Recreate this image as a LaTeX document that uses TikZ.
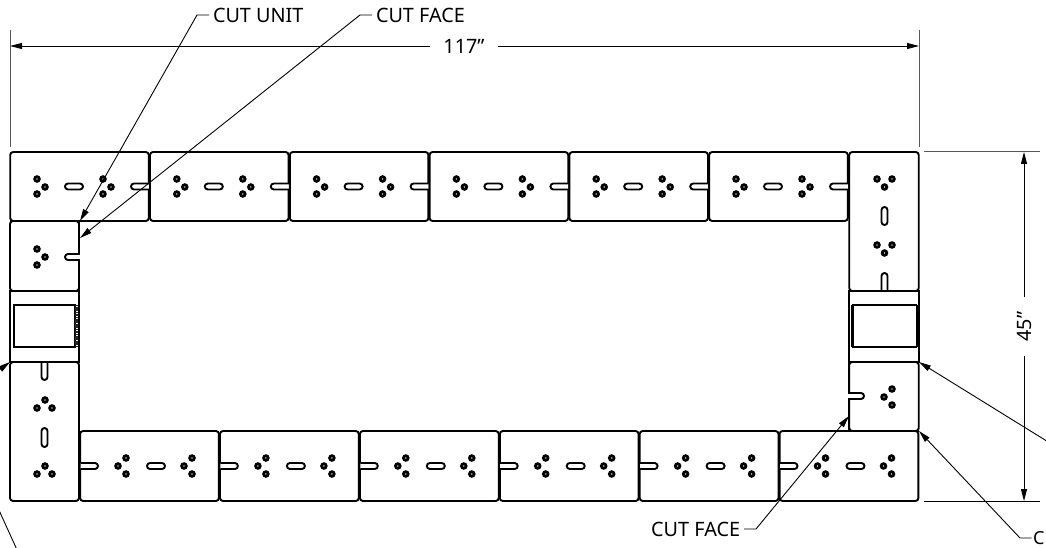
\documentclass[tikz,border=0pt]{standalone}
\usepackage{fontspec}
\setmainfont{Noto Sans}
\usetikzlibrary{arrows.meta}
\tikzset{
  unit/.style={draw=black,fill=white,line width=1.9pt,rounded corners=3pt,inner sep=0pt,outer sep=0pt},
  hole/.style={draw=black,fill=white,line width=2.8pt},
  slotcap/.style={draw=black,fill=white,line width=1.9pt,rounded corners=3pt},
  boxline/.style={draw=black,line width=1.9pt},
  thickline/.style={draw=black,line width=2.8pt},
  dimline/.style={draw=black,line width=0.9pt,-{Triangle[length=12pt,width=6pt]}},
  extline/.style={draw=black!65,line width=1pt},
  extdark/.style={draw=black,line width=0.9pt},
  leader/.style={draw=black,line width=0.9pt,-{Triangle[length=12pt,width=6pt]}},
  label/.style={font=\fontsize{19.8pt}{21pt}\selectfont,inner xsep=4pt,inner ysep=0pt,outer sep=0pt},
}
\newcommand{\hslotc}[3]{\draw[slotcap] (#1,#3-3) -- (#2,#3-3) -- (#2,#3+3) -- (#1,#3+3) -- cycle;}
\newcommand{\vslotc}[3]{\draw[slotcap] (#3-3,#1) -- (#3+3,#1) -- (#3+3,#2) -- (#3-3,#2) -- cycle;}
\newcommand{\holes}[6]{\path[hole] (#1,#2) circle (2.3) (#3,#4) circle (2.3) (#5,#6) circle (2.3);}
\begin{document}
\begin{tikzpicture}[x=1pt,y=-1pt]
\clip[use as bounding box] (0,0) rectangle (1046,548);
% top row
\foreach \i in {1,...,6}{
  \pgfmathsetmacro\xo{10+139.8*(\i-1)}
  \node[unit,minimum width=138.6pt,minimum height=69pt] (t\i) at (\xo+69.5,186.5) {};
  \begin{scope}[shift={(\xo,0)}]
    \holes{27}{179}{35}{187}{27}{194}
    \holes{93}{179}{101}{187}{93}{194}
    \hslotc{55}{73}{186.5}
    \draw[slotcap] (139,183.5) -- (121,183.5) -- (121,189.5) -- (139,189.5);
  \end{scope}
}
% upper right unit
\node[unit,minimum width=69.5pt,minimum height=139pt] (ru) at (884,221.5) {};
\holes{877}{179}{892}{179}{884.5}{187}
\vslotc{207}{225}{884.5}
\holes{877}{245}{892}{245}{884.5}{253}
\draw[slotcap] (881.5,291) -- (881.5,273) -- (887.5,273) -- (887.5,291);
% upper left cut unit
\node[unit,minimum width=69pt,minimum height=70pt] (lc) at (44.5,256) {};
\draw[boxline] (79,222) -- (79,291);
\holes{37}{249}{45}{257}{37}{265}
\draw[slotcap] (79,254) -- (65,254) -- (65,260) -- (79,260);
\draw[white,line width=2.2pt] (79,255) -- (79,259);
% left box
\node[boxline,minimum width=69pt,minimum height=71pt,inner sep=0pt,outer sep=0pt] (lb) at (44.5,326.5) {};
\node[draw=black,line width=1.2pt,minimum width=61pt,minimum height=42pt,inner sep=0pt,outer sep=0pt] (lbi) at (44.5,326) {};
\fill[black] (12.5,305) rectangle (14.8,347);
\draw[black!85,line width=3.4pt,dash pattern=on 1.2pt off 0.5pt] (76.5,305) -- (76.5,347);
% right box
\node[boxline,minimum width=69.5pt,minimum height=71pt,inner sep=0pt,outer sep=0pt] (rb) at (884,326.5) {};
\node[draw=black,line width=1.2pt,minimum width=64pt,minimum height=42pt,inner sep=0pt,outer sep=0pt] (rbi) at (884.5,326) {};
\fill[black] (850.5,305) rectangle (853.5,347);
\fill[black] (915.5,305) rectangle (918.2,347);
% lower left unit
\node[unit,minimum width=69pt,minimum height=139pt] (ll) at (44.5,431.5) {};
\draw[slotcap] (41.5,362) -- (41.5,380) -- (47.5,380) -- (47.5,362);
\holes{37}{408}{45}{400}{52}{408}
\vslotc{428}{447}{44.5}
\holes{37}{474}{45}{466}{52}{474}
% lower right cut unit
\node[unit,minimum width=69.5pt,minimum height=69pt] (rc) at (884,396.5) {};
\draw[boxline] (849,363) -- (849,431);
\holes{884}{397}{892}{389}{892}{405}
\draw[slotcap] (849,393) -- (864,393) -- (864,399) -- (849,399);
\draw[white,line width=2.2pt] (849,394) -- (849,398);
% bottom row
\foreach \i in {1,...,6}{
  \pgfmathsetmacro\xo{79.5+139.9*(\i-1)}
  \node[unit,minimum width=138.8pt,minimum height=70pt] (b\i) at (\xo+70,466) {};
  \begin{scope}[shift={(\xo,0)}]
    \holes{38.5}{466}{46.5}{458}{46.5}{474}
    \holes{104.5}{466}{112.5}{458}{112.5}{474}
    \hslotc{67.5}{85.5}{466}
    \draw[slotcap] (1,463) -- (18.5,463) -- (18.5,469) -- (1,469);
  \end{scope}
}
% heavy joints
\draw[thickline] (lc.north west) -- (lc.north east);
\draw[thickline] (lb.north west) -- (lb.north east);
\draw[thickline] (rb.south west) -- (rb.south east);
\draw[thickline] (rc.south west) -- (rc.south east);
\draw[boxline] (lb.south west) -- (lb.south east);
% overall dimensions
\node[label,minimum width=68pt,inner xsep=0pt] (d117) at (464,46) {117"};
\coordinate (dl) at (10,46);
\coordinate (dr) at (919,46);
\draw[dimline] (d117.west) -- (dl);
\draw[dimline] (d117.east) -- (dr);
\coordinate (el1) at (10,30);
\coordinate (el2) at (10,147);
\coordinate (er1) at (919,30);
\coordinate (er2) at (919,147);
\draw[extline] (el1) -- (el2);
\draw[extline] (er1) -- (er2);
\node[label,rotate=90,minimum width=59pt,inner xsep=0pt] (d45) at (1024,326.5) {45"};
\coordinate (dt) at (1024,152);
\coordinate (db) at (1024,501);
\draw[dimline] (d45.east) -- (dt);
\draw[dimline] (d45.west) -- (db);
\coordinate (et1) at (924,152);
\coordinate (et2) at (1040,152);
\coordinate (eb1) at (924,501);
\coordinate (eb2) at (1040,501);
\draw[extline] (et1) -- (et2);
\draw[extdark] (eb1) -- (eb2);
% leaders
\node[label,anchor=west] (cu) at (209,15) {CUT UNIT};
\coordinate (cuk) at (197,15);
\coordinate (cut) at (80,221);
\draw[leader] (cu.west) -- (cuk) -- (cut);
\node[label,anchor=west] (cf) at (372,15) {CUT FACE};
\coordinate (cfk) at (360,15);
\coordinate (cft) at (80,238);
\draw[leader] (cf.west) -- (cfk) -- (cft);
\node[label,anchor=east] (cfb) at (744,529) {CUT FACE};
\coordinate (cfbk) at (756,529);
\coordinate (cfbt) at (849,416);
\draw[leader] (cfb.east) -- (cfbk) -- (cfbt);
\node[label,anchor=west,inner xsep=1.5pt,font=\fontsize{18pt}{20pt}\selectfont] (cr) at (1031.5,538) {C};
\coordinate (crk) at (1020,538);
\coordinate (crt) at (919,431);
\draw[leader] (cr.west) -- (crk) -- (crt);
\coordinate (rf) at (1058,448);
\coordinate (rft) at (919,362);
\draw[leader] (rf) -- (rft);
\coordinate (lf) at (-20,384);
\coordinate (lft) at (10,362);
\draw[leader] (lf) -- (lft);
\coordinate (lo1) at (-2,508);
\coordinate (lo2) at (18,552);
\draw[extdark] (lo1) -- (lo2);
\end{tikzpicture}
\end{document}
